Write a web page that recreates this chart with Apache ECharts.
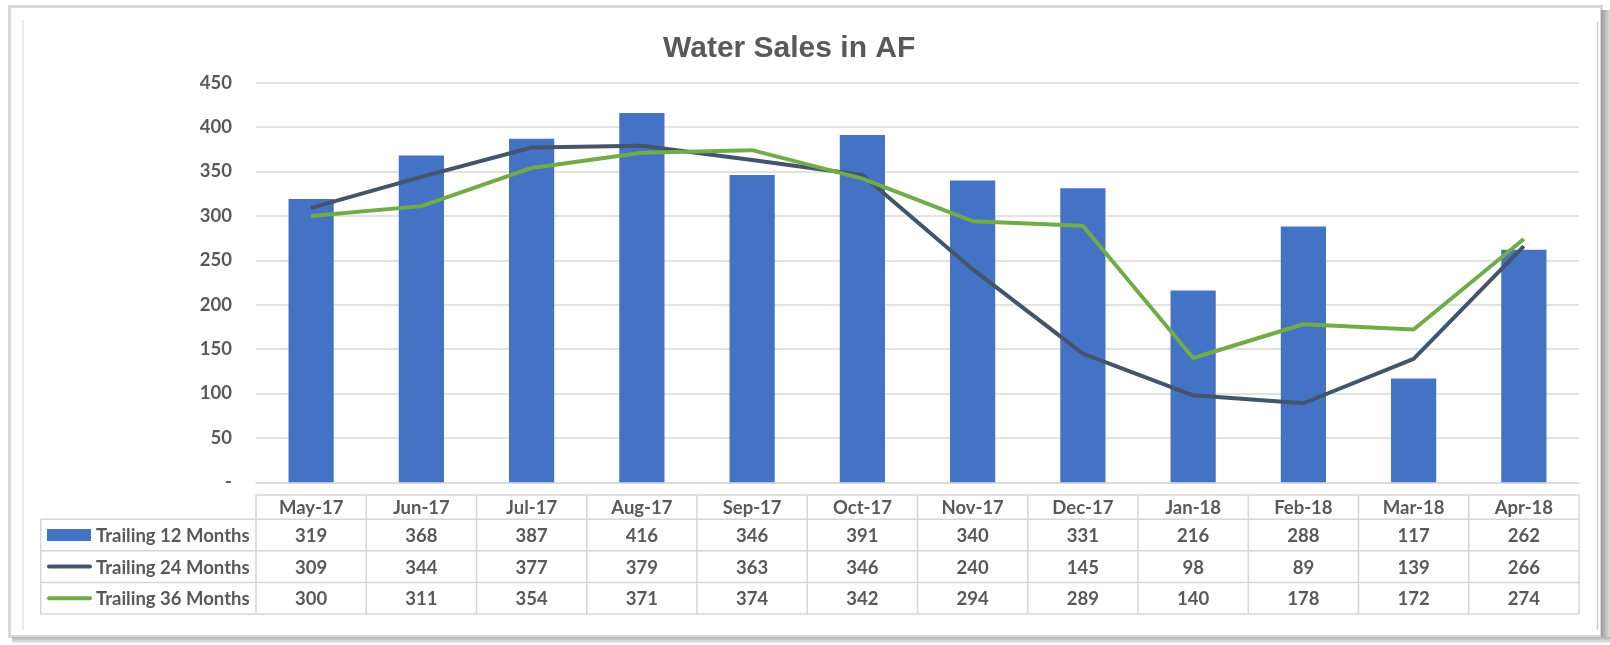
<!DOCTYPE html>
<html><head><meta charset="utf-8">
<script src="https://cdn.jsdelivr.net/npm/echarts@6/dist/echarts.min.js"></script>
<style>html,body{margin:0;padding:0;background:#fff}#c{width:1610px;height:645px}</style>
</head><body><div id="c"></div>
<script>
// ---- data ----
const categories = ['May-17','Jun-17','Jul-17','Aug-17','Sep-17','Oct-17','Nov-17','Dec-17','Jan-18','Feb-18','Mar-18','Apr-18'];
const trailing12 = [319, 368, 387, 416, 346, 391, 340, 331, 216, 288, 117, 262];
const trailing24 = [309, 344, 377, 379, 363, 346, 240, 145, 98, 89, 139, 266];
const trailing36 = [300, 311, 354, 371, 374, 342, 294, 289, 140, 178, 172, 274];
const seriesNames = ['Trailing 12 Months', 'Trailing 24 Months', 'Trailing 36 Months'];
const chartTitle = 'Water Sales in AF';

// ---- style ----
const TXT = '#595959';
const GRID = '#d9d9d9';
const COLORS = ['#4472C4', '#44546A', '#70AD47'];
const FONT = 'Lato';
const FS = 18.5;

const chart = echarts.init(document.getElementById('c'), null, {renderer: 'canvas'});
const gridLeft = 256, gridRight = 31, gridTop = 82.7, gridBottom = 162.7;

chart.setOption({
  animation: false,
  backgroundColor: '#fff',
  title: {
    text: chartTitle, left: 663, top: 34, padding: 0,
    textStyle: {fontFamily: 'Liberation Sans', fontWeight: 'bold', fontSize: 30, color: TXT}
  },
  grid: {left: gridLeft, right: gridRight, top: gridTop, bottom: gridBottom, containLabel: false},
  xAxis: {
    type: 'category', data: categories,
    axisLine: {show: true, lineStyle: {color: GRID, width: 1.5}},
    axisTick: {show: false},
    axisLabel: {show: false}
  },
  yAxis: {
    type: 'value', min: 0, max: 450, interval: 50,
    axisLine: {show: false}, axisTick: {show: false},
    splitLine: {lineStyle: {color: GRID, width: 1.5}},
    axisLabel: {
      margin: 24, color: TXT, fontFamily: FONT, fontWeight: 'bold', fontSize: FS,
      formatter: v => v === 0 ? '-' : String(v)
    }
  },
  series: [
    {name: seriesNames[0], type: 'bar', data: trailing12, barWidth: '41%', itemStyle: {color: COLORS[0]}, z: 1},
    {name: seriesNames[1], type: 'line', data: trailing24, symbol: 'none', lineStyle: {color: COLORS[1], width: 4}, z: 3},
    {name: seriesNames[2], type: 'line', data: trailing36, symbol: 'none', lineStyle: {color: COLORS[2], width: 4}, z: 4}
  ]
});

// ---- data table below the plot, aligned to the category axis ----
const centers = categories.map((c, i) => chart.convertToPixel({xAxisIndex: 0}, i));
const band = centers[1] - centers[0];
const colL = centers[0] - band / 2, colR = centers[centers.length - 1] + band / 2;
const tableLeft = 40.7;
const rowsY = [495, 519.3, 550.7, 582.5, 614];
const BORDER = '#d6d6d6';
const g = [];
const line = (x1, y1, x2, y2) => g.push({type: 'line', shape: {x1, y1, x2, y2}, style: {stroke: BORDER, lineWidth: 1.5}, silent: true});
line(colL, rowsY[0], colR, rowsY[0]);
for (let r = 1; r < rowsY.length; r++) line(tableLeft, rowsY[r], colR, rowsY[r]);
line(tableLeft, rowsY[1], tableLeft, rowsY[4]);
for (let i = 0; i <= categories.length; i++) {
  const x = colL + i * band;
  line(x, rowsY[0], x, rowsY[4]);
}
const txt = (x, y, s, align) => g.push({type: 'text', x, y, silent: true,
  style: {text: s, fill: TXT, font: 'bold ' + FS + 'px ' + FONT, align: align || 'center', verticalAlign: 'middle'}});
categories.forEach((c, i) => txt(centers[i], (rowsY[0] + rowsY[1]) / 2 + 1, c));
const rowData = [trailing12, trailing24, trailing36];
rowData.forEach((arr, r) => {
  const yc = (rowsY[r + 1] + rowsY[r + 2]) / 2 + 1;
  arr.forEach((v, i) => txt(centers[i], yc, String(v)));
  txt(96, yc, seriesNames[r], 'left');
  if (r === 0) {
    g.push({type: 'rect', silent: true, shape: {x: 47, y: yc - 7, width: 44, height: 12}, style: {fill: COLORS[0]}});
  } else {
    g.push({type: 'line', silent: true, shape: {x1: 49, y1: yc - 1, x2: 90, y2: yc - 1}, style: {stroke: COLORS[r], lineWidth: 4, lineCap: 'round'}});
  }
});
// frame
g.push({type: 'rect', silent: true, shape: {x: 9.5, y: 6.5, width: 1592, height: 630}, style: {fill: 'none', stroke: '#d9d9d9', lineWidth: 3}});
g.push({type: 'rect', silent: true, shape: {x: 1601, y: 10, width: 9, height: 630}, style: {fill: new echarts.graphic.LinearGradient(0, 0, 1, 0, [{offset: 0, color: '#9a9a9a'}, {offset: 1, color: '#dddddd'}])}});
g.push({type: 'rect', silent: true, shape: {x: 12, y: 637, width: 1598, height: 6}, style: {fill: new echarts.graphic.LinearGradient(0, 0, 0, 1, [{offset: 0, color: '#b0b0b0'}, {offset: 1, color: '#eeeeee'}])}});
g.push({type: 'line', silent: true, shape: {x1: 23, y1: 20, x2: 23, y2: 630}, style: {stroke: '#e6e6e6', lineWidth: 1.5}});
g.push({type: 'line', silent: true, shape: {x1: 1597.5, y1: 22, x2: 1597.5, y2: 630}, style: {stroke: '#cfcfcf', lineWidth: 1.5}});
chart.setOption({graphic: g});
</script>
</body></html>
